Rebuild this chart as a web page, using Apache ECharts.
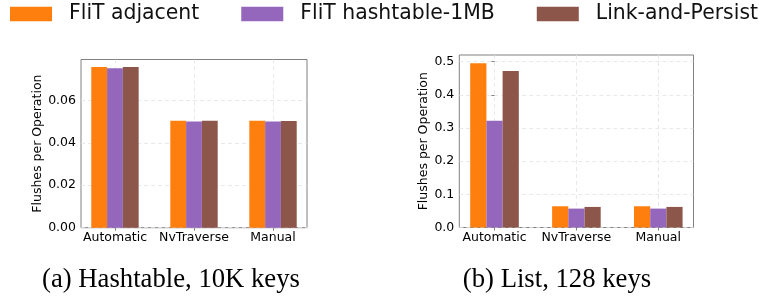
<!DOCTYPE html>
<html>
<head>
<meta charset="utf-8">
<script src="https://cdn.jsdelivr.net/npm/echarts@6/dist/echarts.min.js"></script>
<style>
html,body{margin:0;padding:0;background:#fff;}
#c{width:759px;height:296px;}
</style>
</head>
<body>
<div id="c"></div>
<script>
// ---- data ----
const categories = ['Automatic', 'NvTraverse', 'Manual'];
const seriesNames = ['FliT adjacent', 'FliT hashtable-1MB', 'Link-and-Persist'];
const colors = ['#ff7f0e', '#9467bd', '#8c564b'];

// (a) Hashtable, 10K keys
const hashAdjacent  = [0.0757, 0.0504, 0.0504];
const hashHashtable = [0.0751, 0.0500, 0.0500];
const hashLinkPers  = [0.0757, 0.0504, 0.0502];
const hashTicks = [0, 0.02, 0.04, 0.06];

// (b) List, 128 keys
const listAdjacent  = [0.495, 0.064, 0.064];
const listHashtable = [0.322, 0.057, 0.057];
const listLinkPers  = [0.472, 0.062, 0.062];
const listTicks = [0, 0.1, 0.2, 0.3, 0.4, 0.5];

const captions = ['(a) Hashtable, 10K keys', '(b) List, 128 keys'];
const yName = 'Flushes per Operation';

// ---- chart ----
const FONT = 'DejaVu Sans';
const catIdx = categories.map((_, i) => i);

function xAxisFor(gi) {
  return {
    type: 'value', gridIndex: gi, min: -0.43, max: 2.43,
    axisLine: {show: false},
    axisTick: {show: true, customValues: catIdx, length: 3, lineStyle: {color: '#808080'}},
    axisLabel: {customValues: catIdx, formatter: v => categories[Math.round(v)] || '',
      fontFamily: FONT, fontSize: 12.5, color: '#000', margin: 4},
    splitLine: {show: true, lineStyle: {color: '#e3e3e3', type: [4, 3], width: 0.8}}
  };
}
function yAxisFor(gi, ticks, max, dec, gap) {
  return {
    type: 'value', gridIndex: gi, min: 0, max: max,
    name: yName, nameLocation: 'middle', nameGap: gap,
    nameTextStyle: {fontFamily: FONT, fontSize: 12.5, color: '#000'},
    axisLine: {show: false},
    axisTick: {show: true, customValues: ticks, length: 3, lineStyle: {color: '#808080'}},
    axisLabel: {customValues: ticks, formatter: v => v.toFixed(dec),
      fontFamily: FONT, fontSize: 12.5, color: '#000', margin: 5},
    splitLine: {show: true, lineStyle: {color: '#e3e3e3', type: [4, 3], width: 0.8}}
  };
}
function barSeries(gi, name, vals, color, bw) {
  return {
    type: 'bar', name: name, xAxisIndex: gi, yAxisIndex: gi,
    data: vals.map((v, i) => [catIdx[i], v]),
    barWidth: bw, barGap: '0%',
    itemStyle: {color: color},
    emphasis: {disabled: true}
  };
}

const chart = echarts.init(document.getElementById('c'), null, {renderer: 'canvas'});
chart.setOption({
  animation: false,
  backgroundColor: '#fff',
  legend: {
    data: seriesNames, left: 10, top: 4, width: 749, padding: 0,
    itemWidth: 42, itemHeight: 14.4, itemGap: 42,
    icon: 'rect',
    textStyle: {fontFamily: FONT, fontSize: 20.4, color: '#111', padding: [0, 0, 0, 12]}
  },
  title: [
    {text: captions[0], left: 171, top: 266, textAlign: 'center', padding: 0,
     textStyle: {fontFamily: 'Liberation Serif', fontSize: 26.7, fontWeight: 'normal', color: '#000'}},
    {text: captions[1], left: 557, top: 266, textAlign: 'center', padding: 0,
     textStyle: {fontFamily: 'Liberation Serif', fontSize: 26.7, fontWeight: 'normal', color: '#000'}}
  ],
  grid: [
    {left: 81, top: 59.5, width: 226, height: 168.2, show: true, borderColor: '#808080', borderWidth: 1, backgroundColor: 'transparent'},
    {left: 459.3, top: 55, width: 234.2, height: 172.5, show: true, borderColor: '#808080', borderWidth: 1, backgroundColor: 'transparent'}
  ],
  xAxis: [xAxisFor(0), xAxisFor(1)],
  yAxis: [yAxisFor(0, hashTicks, 0.0792, 2, 36), yAxisFor(1, listTicks, 0.52, 1, 28)],
  series: [
    barSeries(0, seriesNames[0], hashAdjacent, colors[0], 15.8),
    barSeries(0, seriesNames[1], hashHashtable, colors[1], 15.8),
    barSeries(0, seriesNames[2], hashLinkPers, colors[2], 15.8),
    barSeries(1, seriesNames[0], listAdjacent, colors[0], 16.2),
    barSeries(1, seriesNames[1], listHashtable, colors[1], 16.2),
    barSeries(1, seriesNames[2], listLinkPers, colors[2], 16.2)
  ]
});
</script>
</body>
</html>
